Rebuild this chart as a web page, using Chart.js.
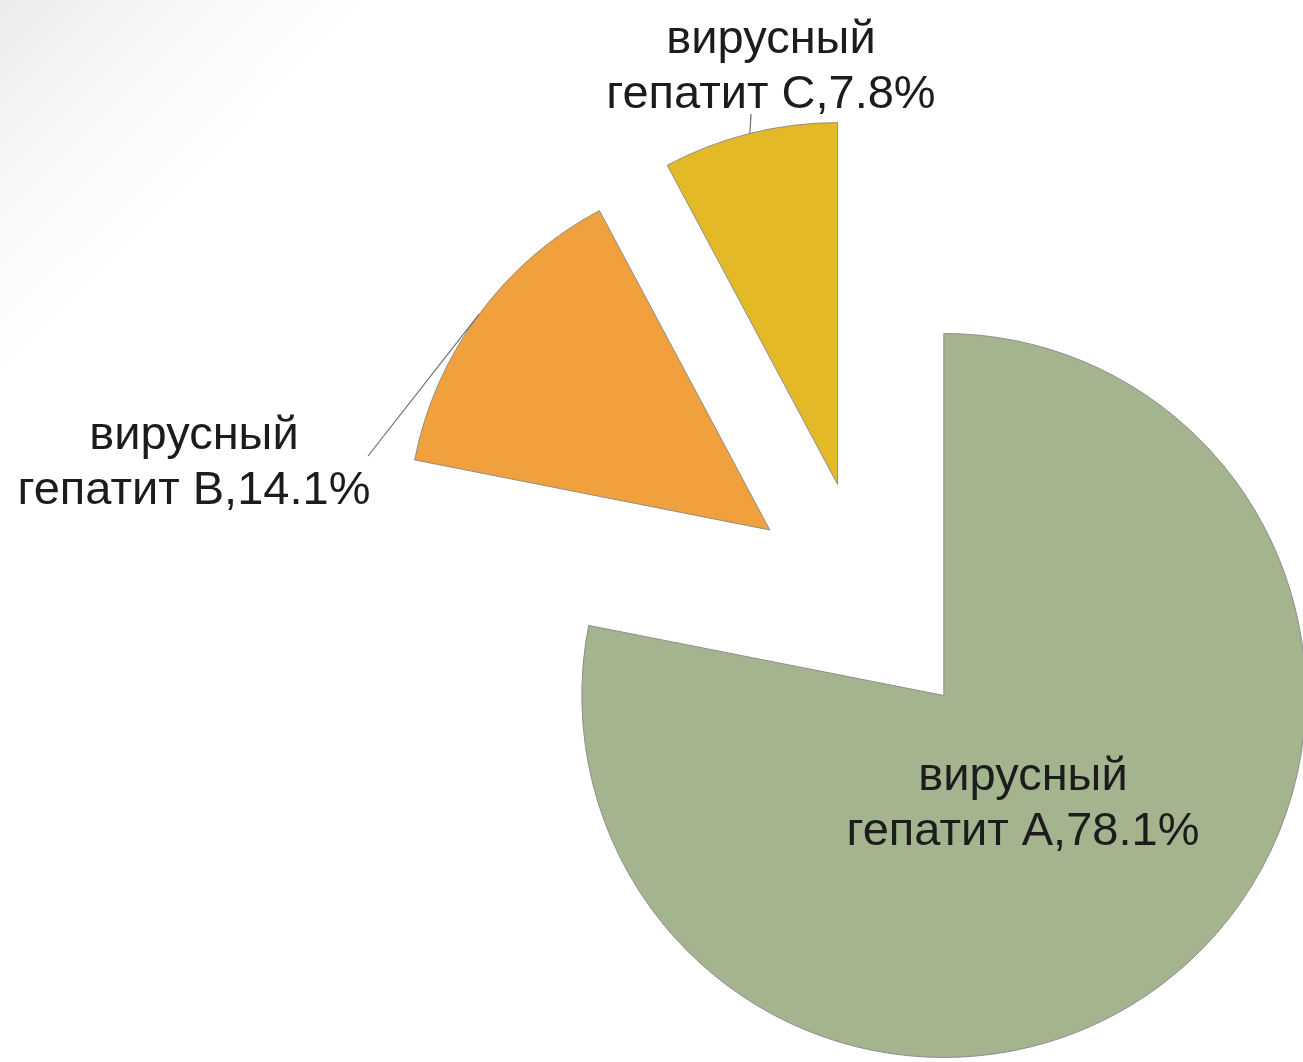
<!DOCTYPE html>
<html lang="ru">
<head>
  <meta charset="utf-8">
  <title>Вирусные гепатиты</title>
  <script src="https://cdn.jsdelivr.net/npm/chart.js"></script>
</head>

<style>
  html, body {
    margin: 0;
    padding: 0;
  }
  body {
    width: 1303px;
    height: 1062px;
    overflow: hidden;
    background: linear-gradient(135deg, #ebebeb 0px, #f6f6f6 120px, #ffffff 270px);
  }
  #pie-chart {
    display: block;
  }
</style>

<body>
  <canvas id="pie-chart" width="1303" height="1062"></canvas>

  <script>
    // data
    const categories = ['вирусный гепатит А', 'вирусный гепатит В', 'вирусный гепатит С'];
    const labelLines = [
      ['вирусный', 'гепатит А,78.1%'],
      ['вирусный', 'гепатит B,14.1%'],
      ['вирусный', 'гепатит С,7.8%']
    ];
    const shares = [78.1, 14.1, 7.8];
    const colors = ['#a3b48f', '#f0a13e', '#e3b927'];

    // how far every slice is pulled out of the centre, px
    const explode = 121;

    // where the labels sit (centre x, first baseline y) and where a leader line starts
    const labelPos = [
      {x: 1023, y: 790, line: null},
      {x: 194, y: 449, line: {x: 368, y: 456}},
      {x: 771, y: 53, line: {x: 751, y: 114}}
    ];

    function sliceShift(arc) {
      const p = arc.getProps(['startAngle', 'endAngle'], true);
      const mid = (p.startAngle + p.endAngle) / 2;
      return {dx: Math.cos(mid) * explode, dy: Math.sin(mid) * explode, mid: mid};
    }

    // draw every arc moved out along its middle angle (chart.js' own offset also grows the radius)
    const explodedPie = {
      id: 'explodedPie',
      beforeDatasetDraw(chart, args) {
        const ctx = chart.ctx;
        const meta = chart.getDatasetMeta(args.index);
        meta.data.forEach(function(arc) {
          const s = sliceShift(arc);
          ctx.save();
          ctx.translate(s.dx, s.dy);
          arc.draw(ctx, chart.chartArea);
          ctx.restore();
        });
        return false;
      }
    };

    const sliceLabels = {
      id: 'sliceLabels',
      afterDatasetsDraw(chart) {
        const ctx = chart.ctx;
        const meta = chart.getDatasetMeta(0);
        ctx.save();
        meta.data.forEach(function(arc, i) {
          const p = arc.getProps(['x', 'y', 'outerRadius'], true);
          const s = sliceShift(arc);
          const ex = p.x + s.dx + Math.cos(s.mid) * p.outerRadius;
          const ey = p.y + s.dy + Math.sin(s.mid) * p.outerRadius;
          const pos = labelPos[i];

          if (pos.line) {
            ctx.strokeStyle = '#6f6f6f';
            ctx.lineWidth = 1.2;
            ctx.beginPath();
            ctx.moveTo(pos.line.x, pos.line.y);
            ctx.lineTo(ex, ey);
            ctx.stroke();
          }

          ctx.fillStyle = '#1c1c1c';
          ctx.font = '47px "Liberation Sans", Arial, sans-serif';
          ctx.textAlign = 'center';
          ctx.textBaseline = 'alphabetic';
          labelLines[i].forEach(function(t, k) {
            ctx.fillText(t, pos.x, pos.y + k * 55);
          });
        });
        ctx.restore();
      }
    };

    var ctx1 = document.getElementById('pie-chart').getContext('2d');
    var chart1 = new Chart(ctx1, {
      type: 'pie',
      data: {
        labels: categories,
        datasets: [{
          data: shares,
          backgroundColor: colors,
          borderColor: '#8d8d8d',
          borderWidth: 1
        }]
      },
      options: {
        responsive: false,
        animation: false,
        events: [],
        radius: 362,
        layout: {
          padding: {left: 431, right: 0, top: 142, bottom: 0}
        },
        plugins: {
          legend: {display: false},
          tooltip: {enabled: false}
        }
      },
      plugins: [explodedPie, sliceLabels]
    });
  </script>
</body>

</html>
